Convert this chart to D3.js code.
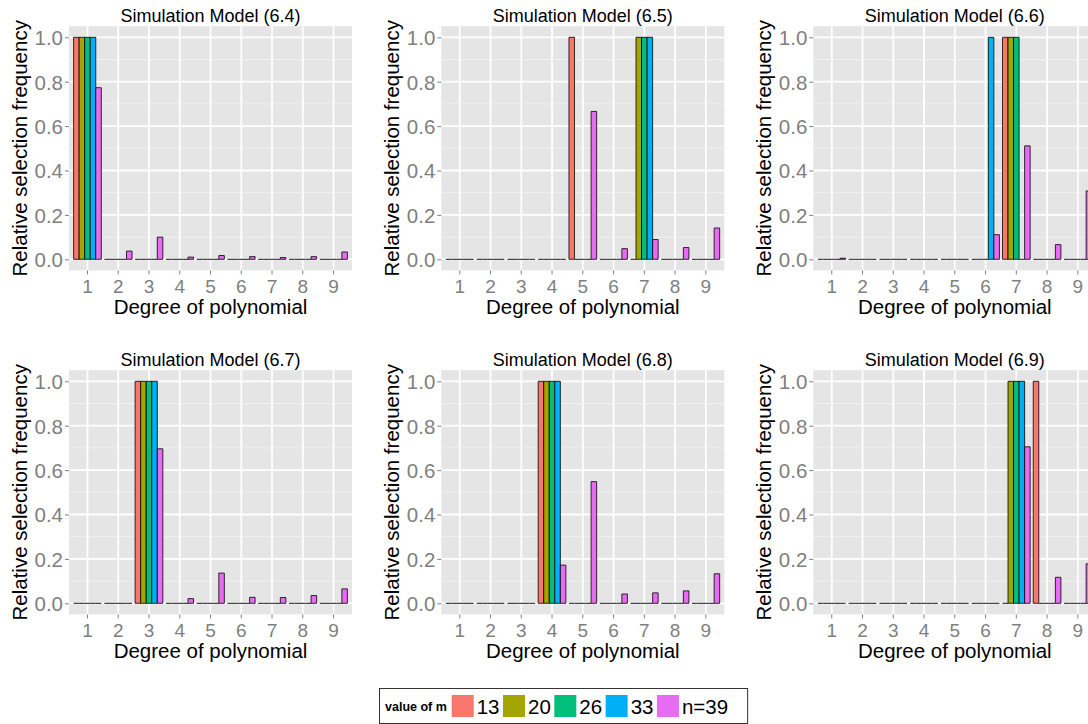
<!DOCTYPE html>
<html>
<head>
<meta charset="utf-8">
<script src="https://cdn.jsdelivr.net/npm/d3@7"></script>
<style>
  html, body { margin: 0; padding: 0; background: #fff; }
  svg { display: block; font-family: "Liberation Sans", Arial, Helvetica, sans-serif; }
</style>
</head>
<body>
<svg id="chart" width="1088" height="724"></svg>
<script>
// Polynomial degrees on the x axis and the five sample-size groups
const degrees = [1, 2, 3, 4, 5, 6, 7, 8, 9];
const groups = ["13", "20", "26", "33", "n=39"];
const groupColors = ["#F8766D", "#A3A500", "#00BF7D", "#00B0F6", "#E76BF3"];
const yTicks = [0, 0.2, 0.4, 0.6, 0.8, 1.0];
const yMinor = [0.1, 0.3, 0.5, 0.7, 0.9];

const panelTitles = [
  "Simulation Model (6.4)", "Simulation Model (6.5)", "Simulation Model (6.6)",
  "Simulation Model (6.7)", "Simulation Model (6.8)", "Simulation Model (6.9)"
];

// Relative selection frequency per degree; one row per group (13, 20, 26, 33, n=39)
const sel_6_4 = [
  [1, 0, 0, 0, 0, 0, 0, 0, 0],
  [1, 0, 0, 0, 0, 0, 0, 0, 0],
  [1, 0, 0, 0, 0, 0, 0, 0, 0],
  [1, 0, 0, 0, 0, 0, 0, 0, 0],
  [0.773, 0.037, 0.100, 0.010, 0.017, 0.012, 0.008, 0.012, 0.033]
];
const sel_6_5 = [
  [0, 0, 0, 0, 1, 0, 0, 0, 0],
  [0, 0, 0, 0, 0, 0, 1, 0, 0],
  [0, 0, 0, 0, 0, 0, 1, 0, 0],
  [0, 0, 0, 0, 0, 0, 1, 0, 0],
  [0, 0, 0, 0, 0.666, 0.048, 0.089, 0.053, 0.141]
];
const sel_6_6 = [
  [0, 0, 0, 0, 0, 0, 1, 0, 0],
  [0, 0, 0, 0, 0, 0, 1, 0, 0],
  [0, 0, 0, 0, 0, 0, 1, 0, 0],
  [0, 0, 0, 0, 0, 1, 0, 0, 0],
  [0.005, 0, 0, 0, 0, 0.111, 0.511, 0.066, 0.308]
];
const sel_6_7 = [
  [0, 0, 1, 0, 0, 0, 0, 0, 0],
  [0, 0, 1, 0, 0, 0, 0, 0, 0],
  [0, 0, 1, 0, 0, 0, 0, 0, 0],
  [0, 0, 1, 0, 0, 0, 0, 0, 0],
  [0, 0, 0.696, 0.021, 0.136, 0.027, 0.026, 0.035, 0.065]
];
const sel_6_8 = [
  [0, 0, 0, 1, 0, 0, 0, 0, 0],
  [0, 0, 0, 1, 0, 0, 0, 0, 0],
  [0, 0, 0, 1, 0, 0, 0, 0, 0],
  [0, 0, 0, 1, 0, 0, 0, 0, 0],
  [0, 0, 0, 0.172, 0.548, 0.042, 0.047, 0.056, 0.133]
];
const sel_6_9 = [
  [0, 0, 0, 0, 0, 0, 0, 1, 0],
  [0, 0, 0, 0, 0, 0, 1, 0, 0],
  [0, 0, 0, 0, 0, 0, 1, 0, 0],
  [0, 0, 0, 0, 0, 0, 1, 0, 0],
  [0, 0, 0, 0, 0, 0, 0.705, 0.117, 0.178]
];
const panelData = [sel_6_4, sel_6_5, sel_6_6, sel_6_7, sel_6_8, sel_6_9];

// Facet grid geometry
const panelW = 283, panelH = 244.2;
const colLeft = [69, 441.3, 813.3];
const rowTop = [26.2, 370.2];

const svg = d3.select("#chart");
svg.append("rect").attr("width", 1088).attr("height", 724).attr("fill", "#fff");

const color = d3.scaleOrdinal().domain(groups).range(groupColors);

panelData.forEach((rows, i) => {
  const left = colLeft[i % 3], top = rowTop[Math.floor(i / 3)];
  const right = left + panelW, bottom = top + panelH;

  const x = d3.scaleBand().domain(degrees).range([left, right])
    .paddingInner(0.1).paddingOuter(0.15);
  const xg = d3.scaleBand().domain(groups).range([0, x.bandwidth()]);
  const y = d3.scaleLinear().domain([-0.05, 1.05]).range([bottom, top]);

  const g = svg.append("g");

  // panel background and grid
  g.append("rect").attr("x", left).attr("y", top)
    .attr("width", panelW).attr("height", panelH).attr("fill", "#E5E5E5");
  g.selectAll(".minor").data(yMinor).join("line")
    .attr("x1", left).attr("x2", right)
    .attr("y1", d => y(d)).attr("y2", d => y(d))
    .attr("stroke", "#F2F2F2").attr("stroke-width", 0.9);
  g.selectAll(".hmajor").data(yTicks).join("line")
    .attr("x1", left).attr("x2", right)
    .attr("y1", d => y(d)).attr("y2", d => y(d))
    .attr("stroke", "#fff").attr("stroke-width", 1.8);
  g.selectAll(".vmajor").data(degrees).join("line")
    .attr("x1", d => x(d) + x.bandwidth() / 2).attr("x2", d => x(d) + x.bandwidth() / 2)
    .attr("y1", top).attr("y2", bottom)
    .attr("stroke", "#fff").attr("stroke-width", 1.8);

  // dodged bars; drawn as paths so zero-height bars still show their outline
  const bars = [];
  rows.forEach((vals, gi) => {
    vals.forEach((v, di) => bars.push({ group: groups[gi], degree: degrees[di], value: v }));
  });
  g.selectAll(".bar").data(bars).join("path")
    .attr("d", d => {
      const x0 = x(d.degree) + xg(d.group), x1 = x0 + xg.bandwidth();
      const y0 = y(0), y1 = y(d.value);
      return `M${x0},${y0}H${x1}V${y1}H${x0}Z`;
    })
    .attr("fill", d => color(d.group))
    .attr("stroke", d => d.value === 0 ? "#444" : "#000")
    .attr("stroke-width", d => d.value === 0 ? 1.2 : 0.8);

  // axes
  const yAxis = g.append("g").attr("transform", `translate(${left},0)`)
    .call(d3.axisLeft(y).tickValues(yTicks).tickFormat(d3.format(".1f"))
      .tickSize(4).tickPadding(2));
  const xAxis = g.append("g").attr("transform", `translate(0,${bottom})`)
    .call(d3.axisBottom(x).tickSize(4).tickPadding(5));
  [yAxis, xAxis].forEach(a => {
    a.select(".domain").remove();
    a.selectAll(".tick line").attr("stroke", "#7F7F7F").attr("stroke-width", 1);
    a.selectAll(".tick text").attr("fill", "#7F7F7F")
      .style("font-family", "Liberation Sans, Arial, sans-serif");
  });
  yAxis.selectAll(".tick text").attr("dy", "0.36em").style("font-size", "20.5px");
  xAxis.selectAll(".tick text").attr("dy", "0.71em").style("font-size", "19px");

  // titles
  g.append("text").attr("x", (left + right) / 2).attr("y", top - 4)
    .attr("text-anchor", "middle").attr("font-size", 18).attr("fill", "#000")
    .text(panelTitles[i]);
  g.append("text").attr("x", (left + right) / 2).attr("y", bottom + 44)
    .attr("text-anchor", "middle").attr("font-size", 20.5).attr("fill", "#000")
    .text("Degree of polynomial");
  g.append("text")
    .attr("transform", `translate(${left - 42},${(top + bottom) / 2}) rotate(-90)`)
    .attr("text-anchor", "middle").attr("font-size", 20.5).attr("fill", "#000")
    .text("Relative selection frequency");
});

// legend
const legend = svg.append("g");
const legX = 379.5, legY = 688.5, legH = 35;
const legBox = legend.append("rect").attr("x", legX).attr("y", legY)
  .attr("height", legH).attr("fill", "#fff").attr("stroke", "#333").attr("stroke-width", 1);
legend.append("text").attr("x", 385).attr("y", 710.5)
  .attr("font-size", 12.5).attr("font-weight", "bold").attr("fill", "#000")
  .text("value of m");
let cx = 451.7;
groups.forEach(gname => {
  legend.append("rect").attr("x", cx).attr("y", 695).attr("width", 22).attr("height", 22)
    .attr("fill", color(gname));
  const t = legend.append("text").attr("x", cx + 25).attr("y", 713.5)
    .attr("font-size", 20.5).attr("fill", "#000").text(gname);
  cx += 25 + t.node().getComputedTextLength() + 3.5;
});
legBox.attr("width", cx - legX + 16);
</script>
</body>
</html>
